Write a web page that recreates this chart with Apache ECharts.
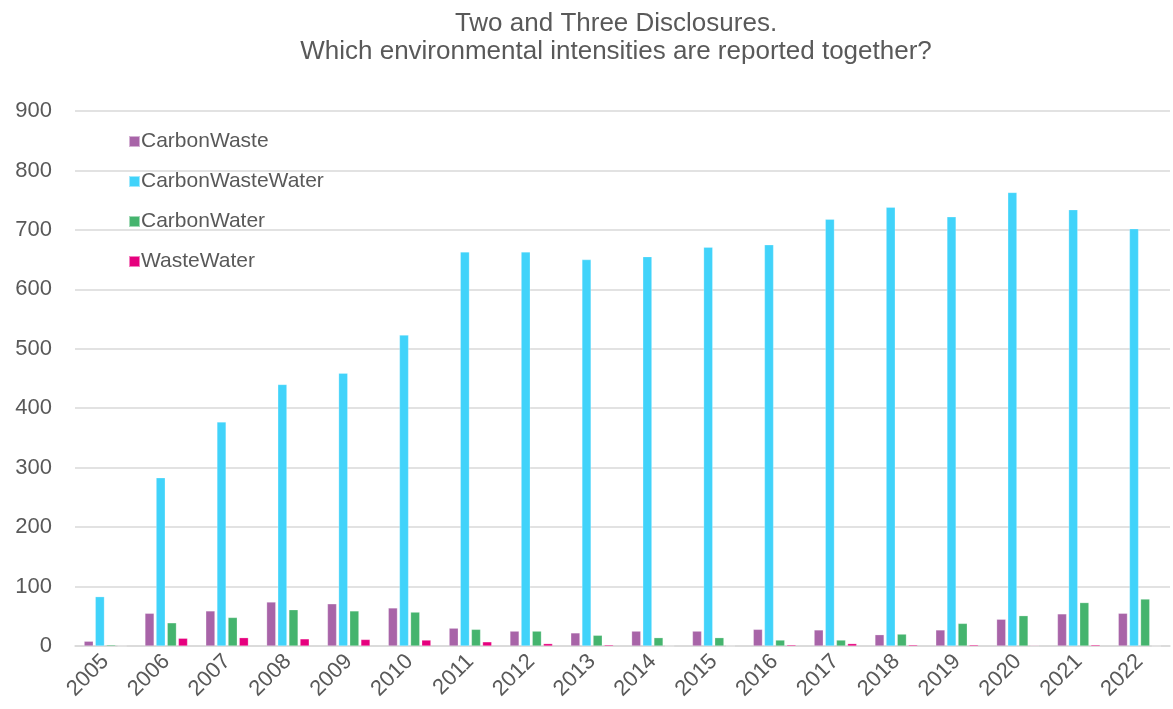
<!DOCTYPE html>
<html>
<head>
<meta charset="utf-8">
<script src="https://cdn.jsdelivr.net/npm/echarts@6/dist/echarts.min.js"></script>
<style>html,body{margin:0;padding:0;background:#fff;}#c{width:1173px;height:709px;}</style>
</head>
<body>
<div id="c"></div>
<script>
const years = ['2005','2006','2007','2008','2009','2010','2011','2012','2013','2014','2015','2016','2017','2018','2019','2020','2021','2022'];
const carbonWaste      = [8, 55, 59, 74, 71, 64, 30, 25, 22, 25, 25, 28, 27, 19, 27, 45, 54, 55];
const carbonWasteWater = [83, 283, 377, 440, 459, 523, 663, 663, 650, 655, 671, 675, 718, 738, 722, 763, 734, 702];
const carbonWater      = [2, 39, 48, 61, 59, 57, 28, 25, 18, 14, 14, 10, 10, 20, 38, 51, 73, 79];
const wasteWater       = [0, 13, 14, 12, 11, 10, 7, 4, 2, 0, 0, 2, 4, 2, 2, 1, 2, 0];
const yTicks = [0, 100, 200, 300, 400, 500, 600, 700, 800, 900];
const seriesNames = ['CarbonWaste', 'CarbonWasteWater', 'CarbonWater', 'WasteWater'];
const colors = ['#A864A8', '#41D3FA', '#45B46E', '#E6007E'];

const chart = echarts.init(document.getElementById('c'));
const font = 'Liberation Sans, Arial, sans-serif';
const dataSets = [carbonWaste, carbonWasteWater, carbonWater, wasteWater];
chart.setOption({
  animation: false,
  color: colors,
  title: {
    text: 'Two and Three Disclosures.\nWhich environmental intensities are reported together?',
    left: 611, top: 5, textAlign: 'center',
    textStyle: { fontFamily: font, fontSize: 26, fontWeight: 'normal', color: '#595959', lineHeight: 28 }
  },
  legend: {
    orient: 'vertical', left: 123, top: 126,
    itemWidth: 11, itemHeight: 11, itemGap: 19,
    icon: 'rect',
    textStyle: { fontFamily: font, fontSize: 21, color: '#595959', padding: [0,0,0,-4] },
    data: seriesNames
  },
  grid: { left: 75, right: 3, top: 111, bottom: 63, containLabel: false },
  xAxis: {
    type: 'category', data: years,
    axisLine: { show: true, lineStyle: { color: '#D9D9D9', width: 1.5 } },
    axisTick: { show: false },
    axisLabel: { rotate: 45, fontFamily: font, fontSize: 22, color: '#595959', margin: 12 }
  },
  yAxis: {
    type: 'value', min: yTicks[0], max: yTicks[yTicks.length-1], interval: 100,
    axisLine: { show: false }, axisTick: { show: false },
    splitLine: { lineStyle: { color: '#D9D9D9', width: 1.5 } },
    axisLabel: { fontFamily: font, fontSize: 22, color: '#595959', margin: 23 }
  },
  series: seriesNames.map((n, i) => ({
    name: n, type: 'bar', data: dataSets[i],
    barGap: '22%', barCategoryGap: '30%',
    itemStyle: { borderColor: 'rgba(255,255,255,0.5)', borderWidth: 0.5 }
  }))
});
</script>
</body>
</html>
